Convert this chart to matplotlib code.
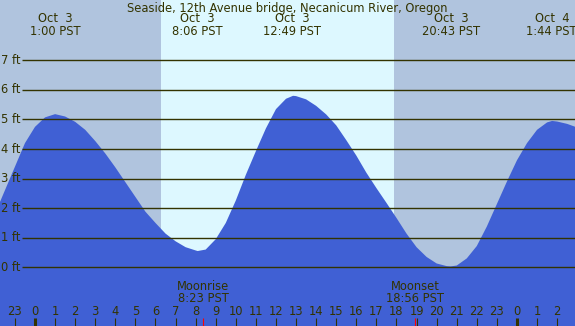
import matplotlib
matplotlib.use("Agg")
import matplotlib.pyplot as plt

# tide height (ft), hours from midnight Oct 3 (PST)
hours = [-1.75, -1.5, -1.0, -0.5, 0.0, 0.5, 1.0, 1.5, 2.0, 2.5, 3.0, 3.5, 4.0, 4.5,
         5.0, 5.5, 6.0, 6.5, 7.0, 7.5, 8.0, 8.1, 8.5, 9.0, 9.5, 10.0, 10.5, 11.0,
         11.5, 12.0, 12.5, 12.85, 13.0, 13.5, 14.0, 14.5, 15.0, 15.5, 16.0, 16.5,
         17.0, 17.5, 18.0, 18.5, 19.0, 19.5, 20.0, 20.5, 20.7, 21.0, 21.5, 22.0,
         22.5, 23.0, 23.5, 24.0, 24.5, 25.0, 25.5, 25.75, 26.0, 26.5, 26.95]
height = [2.2, 2.6, 3.4, 4.2, 4.75, 5.07, 5.18, 5.1, 4.92, 4.65, 4.27, 3.85, 3.38, 2.88,
          2.38, 1.88, 1.5, 1.14, 0.88, 0.68, 0.57, 0.55, 0.6, 0.95, 1.5, 2.26, 3.13, 3.93,
          4.7, 5.35, 5.7, 5.8, 5.79, 5.68, 5.46, 5.17, 4.8, 4.3, 3.78, 3.2,
          2.68, 2.18, 1.67, 1.14, 0.68, 0.35, 0.13, 0.04, 0.03, 0.06, 0.3, 0.72,
          1.38, 2.14, 2.9, 3.62, 4.2, 4.65, 4.9, 4.95, 4.93, 4.85, 4.74]

# high / low tide labels along the top
tide_hours = [1.0, 8.1, 12.817, 20.717, 25.733]
tide_days = ["Oct  3", "Oct  3", "Oct  3", "Oct  3", "Oct  4"]
tide_times = ["1:00 PST", "8:06 PST", "12:49 PST", "20:43 PST", "1:44 PST"]

# daylight span (hours)
day_start, day_end = 6.27, 17.88

moon_hours = [8.383, 18.933]
moon_labels = ["Moonrise\n8:23 PST", "Moonset\n18:56 PST"]

hour_ticks = list(range(-1, 27))
tick_labels = [str(h % 24) for h in hour_ticks]
ft_levels = list(range(0, 8))

title = "Seaside, 12th Avenue bridge, Necanicum River, Oregon"

night = "#b0c4de"
day = "#ddf8ff"
water = "#4060d4"
ink = "#333300"
fs = 8.3

fig = plt.figure(figsize=(5.75, 3.26), dpi=100)
ax = fig.add_axes([0, 0, 1, 1])
x0, x1 = -1.743, 26.89
y0, y1 = -1.985, 9.04
ax.set_xlim(x0, x1)
ax.set_ylim(y0, y1)
ax.axis("off")

ax.axvspan(x0, day_start, color=night, lw=0)
ax.axvspan(day_start, day_end, color=day, lw=0)
ax.axvspan(day_end, x1, color=night, lw=0)

ax.fill_between(hours, height, y0, color=water, lw=0, zorder=2)

for f in ft_levels:
    ax.hlines(f, -0.647, x1, color=ink, lw=1.0, zorder=3)
    ax.text(-1.67, f, f"{f} ft", color=ink, fontsize=fs, va="center", ha="left", zorder=4)

ax.text(12.55, 8.76, title, color=ink, fontsize=fs, ha="center", va="center")
for h, d, t in zip(tide_hours, tide_days, tide_times):
    ax.text(h, 8.19, d + "\n" + t, color=ink, fontsize=fs, ha="center", va="center",
            linespacing=0.95)

for h, lab in zip(moon_hours, moon_labels):
    ax.text(h, -0.86, lab, color=ink, fontsize=fs, ha="center", va="center",
            linespacing=0.92, zorder=4)
    ax.vlines(h, y0, -1.715, color="red", lw=0.8, zorder=4)

for h, lab in zip(hour_ticks, tick_labels):
    w = 2.2 if h % 24 == 0 else 0.8
    ax.vlines(h, y0, -1.715, color=ink, lw=w, zorder=3)
    ax.text(h, -1.49, lab, color=ink, fontsize=fs, ha="center", va="center", zorder=4)

fig.savefig("out.png", dpi=100)
